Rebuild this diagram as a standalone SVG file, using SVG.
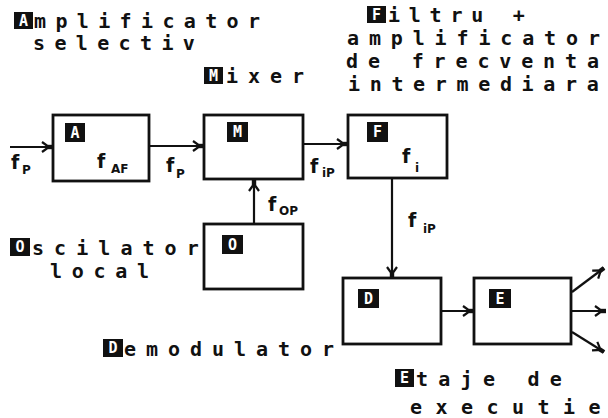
<svg xmlns="http://www.w3.org/2000/svg" width="608" height="418" viewBox="0 0 608 418">
<style>
.t{font-family:"DejaVu Sans Mono","Liberation Mono",monospace;font-weight:bold;font-size:20px;fill:#111}
.inv{font-family:"DejaVu Sans Mono","Liberation Mono",monospace;font-weight:bold;font-size:15px;fill:#fff;text-anchor:middle}
.blk{fill:#111}
.box{fill:#fff;stroke:#111;stroke-width:2.8}
.f{font-family:"DejaVu Sans","Liberation Sans",sans-serif;font-weight:bold;font-size:19px;fill:#111}
.s{font-family:"DejaVu Sans","Liberation Sans",sans-serif;font-weight:bold;font-size:12px;fill:#111}
.c{stroke:#111;stroke-width:2.2;fill:none}
</style>
<defs>
<marker id="ah" markerUnits="userSpaceOnUse" markerWidth="16" markerHeight="14" viewBox="-12 -7 16 14" refX="0" refY="0" orient="auto">
<path d="M-11,-5 L-4,0 L-11,5" fill="none" stroke="#111" stroke-width="2.2"/>
<rect x="-5" y="-2.2" width="5" height="4.4" fill="#111"/>
</marker>
</defs>
<rect width="608" height="418" fill="#fff"/>

<g id="connectors">
<line class="c" x1="10" y1="147" x2="53" y2="147" marker-end="url(#ah)"/>
<line class="c" x1="149" y1="146" x2="204" y2="146" marker-end="url(#ah)"/>
<line class="c" x1="303" y1="144" x2="348" y2="144" marker-end="url(#ah)"/>
<line class="c" x1="254" y1="224" x2="254" y2="180" marker-end="url(#ah)"/>
<line class="c" x1="392" y1="178" x2="392" y2="278" marker-end="url(#ah)"/>
<line class="c" x1="441" y1="311" x2="474" y2="311" marker-end="url(#ah)"/>
<line class="c" x1="572" y1="292" x2="604" y2="268" marker-end="url(#ah)"/>
<line class="c" x1="572" y1="311" x2="606" y2="311" marker-end="url(#ah)"/>
<line class="c" x1="572" y1="332" x2="604" y2="352" marker-end="url(#ah)"/>
<text class="f" x="11" y="169">f</text><text class="s" x="22" y="174">P</text>
<text class="f" x="166" y="172">f</text><text class="s" x="176" y="178">P</text>
<text class="f" x="310" y="173">f</text><text class="s" x="322" y="177">iP</text>
<text class="f" x="268" y="211">f</text><text class="s" x="279" y="215">OP</text>
<text class="f" x="408" y="227">f</text><text class="s" x="423" y="233">iP</text>
</g>

<g id="amplificator">
<rect class="box" x="53" y="115" width="96" height="66"/>
<rect class="blk" x="65" y="123" width="20" height="19"/><text class="inv" x="75" y="138">A</text>
<text class="f" x="97" y="168">f</text><text class="s" x="111" y="173">AF</text>
<rect class="blk" x="14" y="12" width="19" height="17"/><text class="inv" x="23.5" y="26">A</text>
<text class="t" x="34 55.4 76.8 98.2 119.6 141 162.4 183.8 205.2 226.6 248" y="28">mplificator</text>
<text class="t" x="33 54.4 75.8 97.2 118.6 140 161.4 182.8" y="50">selectiv</text>
</g>

<g id="mixer">
<rect class="box" x="204" y="115" width="99" height="64"/>
<rect class="blk" x="227" y="122" width="21" height="20"/><text class="inv" x="237.5" y="137">M</text>
<rect class="blk" x="204" y="67" width="19" height="17"/><text class="inv" x="213.5" y="81">M</text>
<text class="t" x="226 248 270 292" y="83">ixer</text>
</g>

<g id="filtru">
<rect class="box" x="348" y="115" width="99" height="63"/>
<rect class="blk" x="367" y="122" width="21" height="20"/><text class="inv" x="377.5" y="137">F</text>
<text class="f" x="402" y="163">f</text><text class="s" x="415" y="172">i</text>
<rect class="blk" x="367" y="6" width="19" height="17"/><text class="inv" x="376.5" y="20">F</text>
<text class="t" x="388 408.8 429.6 450.4 471.2 492 512.8" y="22">iltru +</text>
<text class="t" x="347 368.9 390.8 412.7 434.6 456.5 478.4 500.3 522.2 544.1 566 587.9" y="45">amplificator</text>
<text class="t" x="346 367.9 389.8 411.7 433.6 455.5 477.4 499.3 521.2 543.1 565 586.9" y="68">de frecventa</text>
<text class="t" x="348 369.7 391.4 413.1 434.8 456.5 478.2 499.9 521.6 543.3 565 586.7" y="91">intermediara</text>
</g>

<g id="oscilator">
<rect class="box" x="204" y="224" width="99" height="65"/>
<rect class="blk" x="222" y="235" width="21" height="19"/><text class="inv" x="232.5" y="250">O</text>
<rect class="blk" x="10" y="238" width="20" height="18"/><text class="inv" x="20" y="252">O</text>
<text class="t" x="32 54.1 76.2 98.3 120.4 142.5 164.6 186.7" y="255">scilator</text>
<text class="t" x="50 71.75 93.5 115.25 137" y="278">local</text>
</g>

<g id="demodulator">
<rect class="box" x="343" y="278" width="98" height="66"/>
<rect class="blk" x="358" y="289" width="21" height="19"/><text class="inv" x="368.5" y="304">D</text>
<rect class="blk" x="103" y="339" width="20" height="18"/><text class="inv" x="113" y="353">D</text>
<text class="t" x="124 146 168 190 212 234 256 278 300 322" y="356">emodulator</text>
</g>

<g id="etaje">
<rect class="box" x="474" y="278" width="97" height="66"/>
<rect class="blk" x="489" y="289" width="22" height="19"/><text class="inv" x="500" y="304">E</text>
<rect class="blk" x="395" y="369" width="19" height="18"/><text class="inv" x="404.5" y="383">E</text>
<text class="t" x="416 438.3 460.6 482.9 505.2 527.5 549.8" y="386">taje de</text>
<text class="t" x="410 435.5 461 486.5 512 537.5 563 588.5" y="414">executie</text>
</g>
</svg>
